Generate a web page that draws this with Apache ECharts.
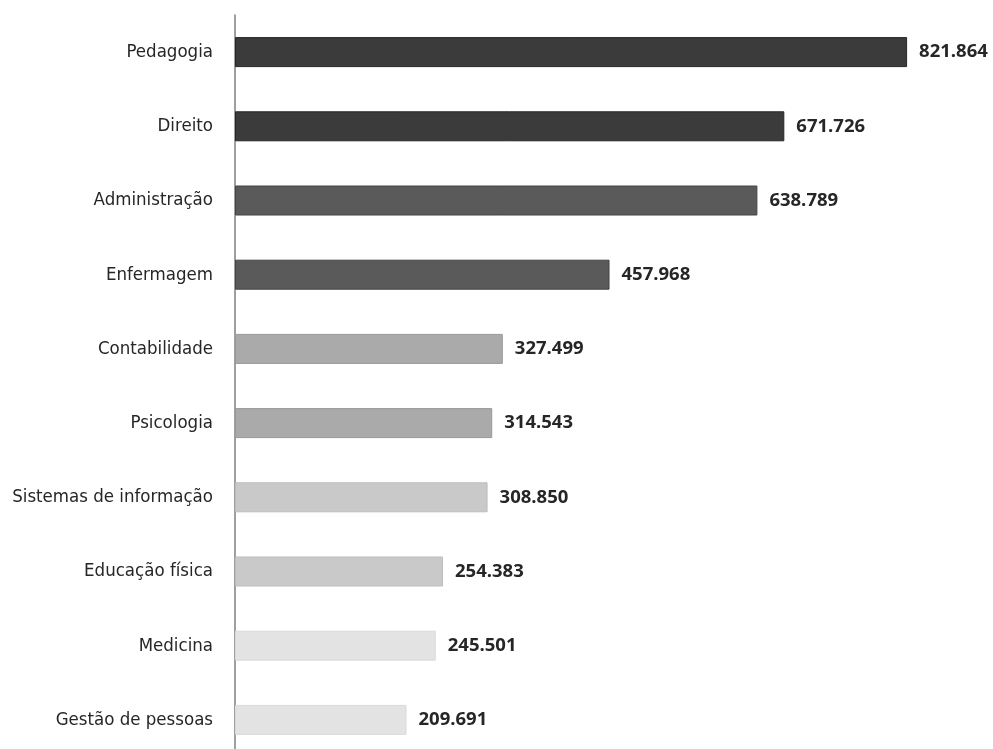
<!DOCTYPE html>
<html><head><meta charset="utf-8">
<script src="https://cdn.jsdelivr.net/npm/echarts@6/dist/echarts.min.js"></script>
<style>html,body{margin:0;padding:0;background:#fff}#c{width:993px;height:749px}</style>
</head><body><div id="c"></div>
<script>
const categories = ["Pedagogia","Direito","Administração","Enfermagem","Contabilidade","Psicologia","Sistemas de informação","Educação física","Medicina","Gestão de pessoas"];
const values = [821.864, 671.726, 638.789, 457.968, 327.499, 314.543, 308.850, 254.383, 245.501, 209.691];
const valueLabels = ["821.864","671.726","638.789","457.968","327.499","314.543","308.850","254.383","245.501","209.691"];
const barColors = ["#3b3b3b","#3b3b3b","#5a5a5a","#5a5a5a","#aaaaaa","#aaaaaa","#c9c9c9","#c9c9c9","#e3e3e3","#e3e3e3"];
const borderColors = ["#262626","#262626","#444444","#444444","#999999","#999999","#bdbdbd","#bdbdbd","#d9d9d9","#d9d9d9"];

const chart = echarts.init(document.getElementById('c'));
chart.setOption({
  animation: false,
  backgroundColor: '#fff',
  grid: {left: 235, right: 22, top: 15, height: 742, containLabel: false, outerBoundsMode: 'none'},
  xAxis: {type: 'value', min: 0, max: 900, show: false},
  yAxis: {
    type: 'category', inverse: true, data: categories,
    axisLine: {show: true, lineStyle: {color: '#7f7f7f', width: 1.5}},
    axisTick: {show: false},
    axisLabel: {margin: 22, color: '#262626', fontSize: 18.5, fontFamily: '"Liberation Sans Narrow","DejaVu Sans Condensed",sans-serif'}
  },
  series: [{
    type: 'bar', barWidth: 30,
    data: values.map((v, i) => ({value: v, itemStyle: {color: barColors[i], borderColor: borderColors[i], borderWidth: 1}})),
    label: {show: true, position: 'right', distance: 12, color: '#262626', fontSize: 18.5, fontWeight: 'bold', fontFamily: '"Open Sans",sans-serif',
      formatter: p => valueLabels[p.dataIndex]}
  }]
});
</script></body></html>
